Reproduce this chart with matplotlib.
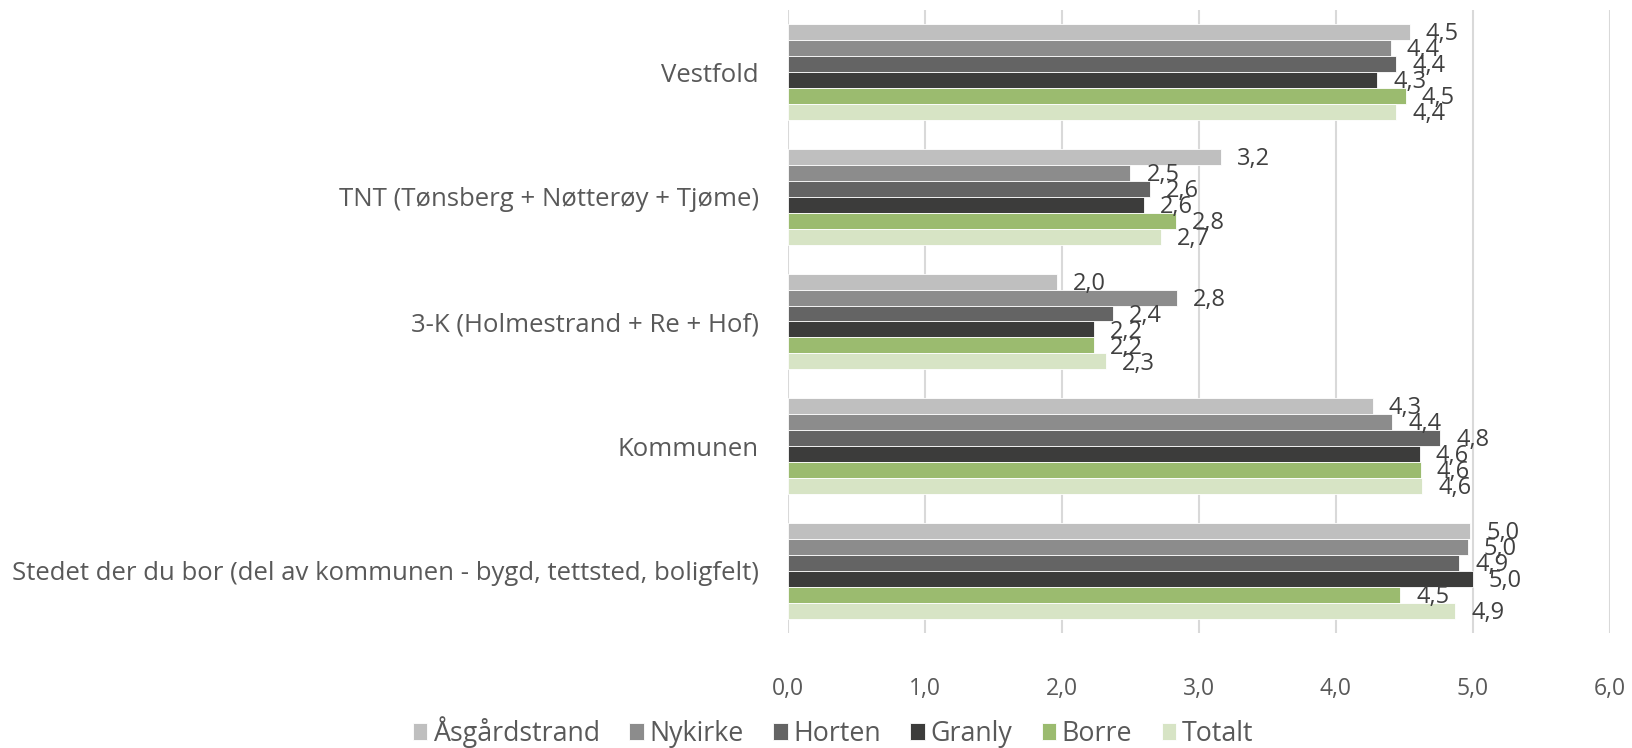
import matplotlib
matplotlib.use("Agg")
import matplotlib.pyplot as plt
import numpy as np

categories = ["Vestfold",
              "TNT (Tønsberg + Nøtterøy + Tjøme)",
              "3-K (Holmestrand + Re + Hof)",
              "Kommunen",
              "Stedet der du bor (del av kommunen - bygd, tettsted, boligfelt)"]
series_names = ["Åsgårdstrand", "Nykirke", "Horten", "Granly", "Borre", "Totalt"]
asgardstrand = [4.54, 3.16, 1.96, 4.27, 4.98]
nykirke = [4.40, 2.50, 2.84, 4.41, 4.96]
horten = [4.44, 2.64, 2.37, 4.76, 4.90]
granly = [4.30, 2.60, 2.23, 4.61, 5.00]
borre = [4.51, 2.83, 2.23, 4.62, 4.47]
totalt = [4.44, 2.72, 2.32, 4.63, 4.87]
x_ticks = [0, 1, 2, 3, 4, 5, 6]
x_tick_labels = ["0,0", "1,0", "2,0", "3,0", "4,0", "5,0", "6,0"]

series_values = [asgardstrand, nykirke, horten, granly, borre, totalt]
colors = ["#BFBFBF", "#8C8C8C", "#646464", "#3C3C3B", "#9BBB6F", "#D7E4C5"]

plt.rcParams['font.family'] = ['Open Sans', 'DejaVu Sans']
txt = "#595959"

fig = plt.figure(figsize=(16.33, 7.48), dpi=100)
ax = fig.add_axes([788/1633, 1-633/748, (1610-788)/1633, (633-10)/748])

n = len(series_names)
group = 0.77
h = group / n
y = np.arange(len(categories))
for i, (name, vals, c) in enumerate(zip(series_names, series_values, colors)):
    pos = y - group/2 + h*(i+0.5)
    bars = ax.barh(pos, vals, height=h, color=c, edgecolor="white", linewidth=0.6,
                   label=name, zorder=3)
    for b, v in zip(bars, vals):
        ax.annotate(f"{v:.1f}".replace(".", ","),
                    xy=(b.get_width(), b.get_y() + b.get_height()/2),
                    xytext=(11.5, -1.5), textcoords="offset points",
                    ha="left", va="center", fontsize=17, color="#404040", zorder=4)

ax.set_ylim(len(categories) - 0.5, -0.5)
ax.set_xlim(0, 6)
ax.set_xticks(x_ticks)
ax.set_xticklabels(x_tick_labels)
ax.set_yticks(y)
ax.set_yticklabels(categories)
ax.tick_params(axis="x", length=0, pad=32, labelsize=16.5, labelcolor=txt)
ax.tick_params(axis="y", length=0, pad=21, labelsize=18.5, labelcolor=txt)
for s in ax.spines.values():
    s.set_visible(False)
ax.grid(axis="x", color="#D9D9D9", linewidth=1.5, zorder=0)
ax.set_axisbelow(True)

leg = fig.legend(loc="center", bbox_to_anchor=(833/1633, 1-732/748), ncol=6,
                 frameon=False, fontsize=19.3, handlelength=0.55, handleheight=0.55,
                 handletextpad=0.2, columnspacing=1.1, labelcolor=txt)

fig.savefig("out.png", dpi=100)
